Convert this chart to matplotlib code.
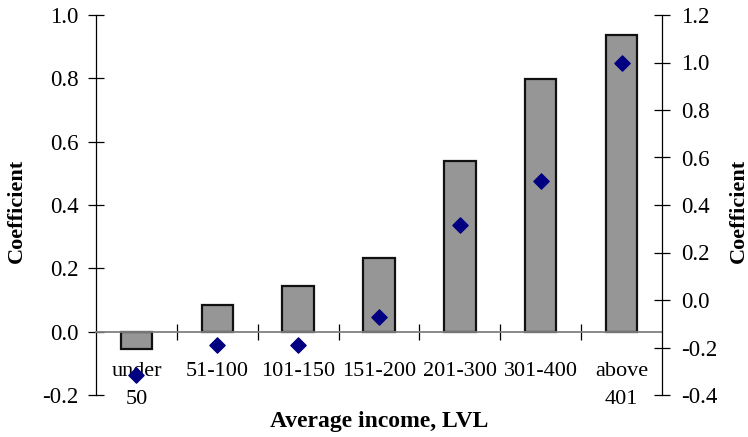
import matplotlib
matplotlib.use("Agg")
import matplotlib.pyplot as plt
import numpy as np
from matplotlib.ticker import FormatStrFormatter, MultipleLocator, FixedLocator

plt.rcParams['font.family'] = ['Liberation Serif', 'DejaVu Serif']
plt.rcParams['axes.unicode_minus'] = False

categories = ["under\n50", "51-100", "101-150", "151-200", "201-300", "301-400", "above\n401"]
bar_values = [-0.055, 0.085, 0.143, 0.232, 0.54, 0.797, 0.937]
diamond_values = [-0.315, -0.19, -0.19, -0.07, 0.315, 0.50, 1.0]

W, H = 748, 437
fig = plt.figure(figsize=(W / 100, H / 100), dpi=100)
left, right, top, bottom = 96, 662, 15, 395
ax = fig.add_axes([left / W, (H - bottom) / H, (right - left) / W, (bottom - top) / H])
ax.patch.set_alpha(0)

x = np.arange(len(categories))
ax.bar(x, bar_values, width=0.39, color='#969696', edgecolor='#111111', linewidth=1.6, zorder=2)
ax.set_xlim(-0.5, len(categories) - 0.5)
ax.set_ylim(-0.2, 1.0)
ax.yaxis.set_major_locator(MultipleLocator(0.2))
ax.yaxis.set_major_formatter(FormatStrFormatter('%.1f'))

ax.spines['top'].set_visible(False)
ax.spines['right'].set_visible(False)
ax.spines['bottom'].set_position(('data', 0))
ax.spines['bottom'].set_color('#808080')
ax.spines['bottom'].set_linewidth(1.3)
ax.spines['left'].set_linewidth(0.9)

ax.xaxis.set_major_locator(FixedLocator(x))
ax.set_xticklabels(categories, linespacing=1.7)
ax.xaxis.set_minor_locator(FixedLocator(np.arange(0.5, len(categories) - 1, 1.0)))
ax.tick_params(axis='x', which='major', length=0, pad=21.5, labelsize=16)
ax.tick_params(axis='x', which='minor', length=11, direction='inout', width=0.9, color='black')
ax.tick_params(axis='y', length=11, direction='inout', width=0.9, pad=7, labelsize=16.5)

ax2 = ax.twinx()
ax2.scatter(x, diamond_values, marker='D', s=60, color='#000080', zorder=3)
ax2.set_ylim(-0.4, 1.2)
ax2.set_xlim(-0.5, len(categories) - 0.5)
ax2.yaxis.set_major_locator(MultipleLocator(0.2))
ax2.yaxis.set_major_formatter(FormatStrFormatter('%.1f'))
for s in ['top', 'bottom', 'left']:
    ax2.spines[s].set_visible(False)
ax2.spines['right'].set_linewidth(0.9)
ax2.tick_params(axis='y', length=11, direction='inout', width=0.9, pad=8, labelsize=16.5)

fig.text(17 / W, 1 - 211 / H, "Coefficient", rotation=90, ha='center', va='center',
         fontsize=16, fontweight='bold')
fig.text(739 / W, 1 - 211 / H, "Coefficient", rotation=90, ha='center', va='center',
         fontsize=16, fontweight='bold')
fig.text(379 / W, 1 - 421 / H, "Average income, LVL", ha='center', va='center',
         fontsize=17, fontweight='bold')

fig.savefig("out.png", dpi=100)
